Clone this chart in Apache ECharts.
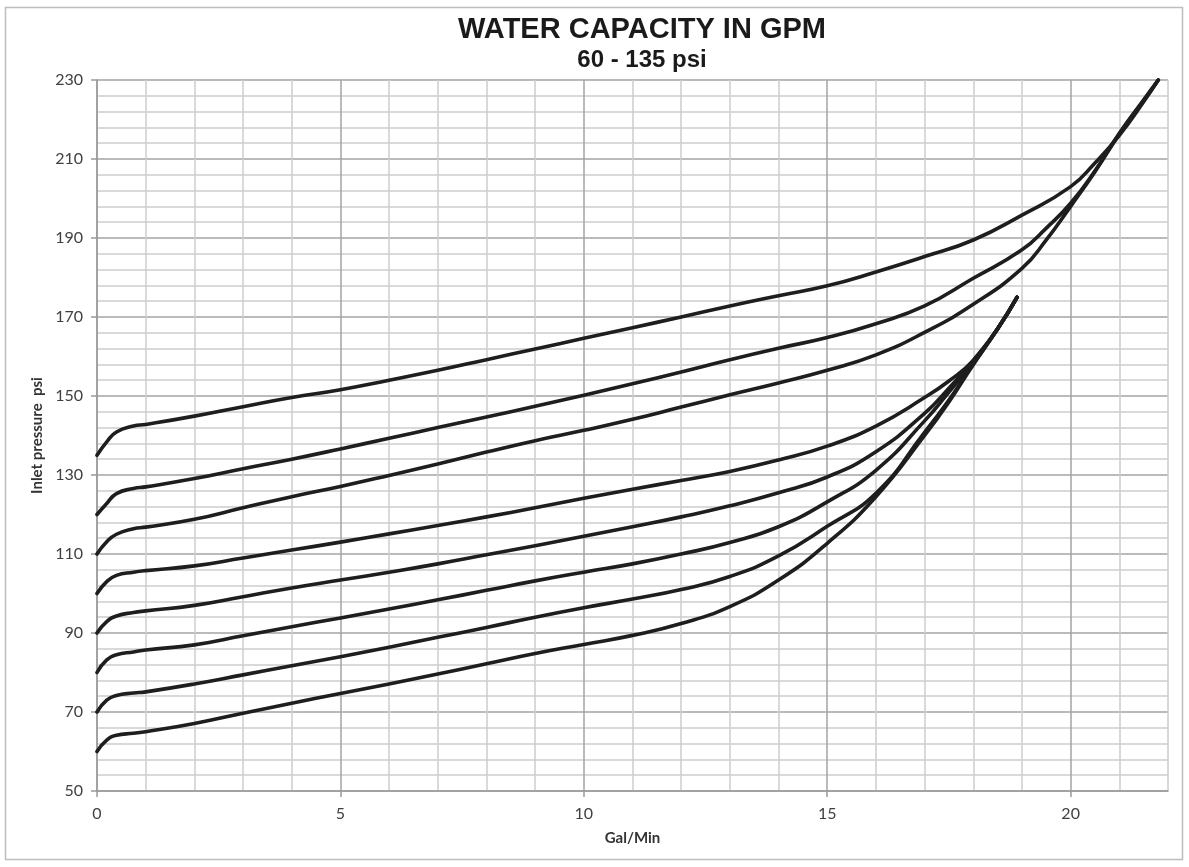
<!DOCTYPE html>
<html>
<head>
<meta charset="utf-8">
<script src="https://cdn.jsdelivr.net/npm/echarts@6/dist/echarts.min.js"></script>
<style>
html,body{margin:0;padding:0;background:#fff;}
#chart{width:1189px;height:867px;}
</style>
</head>
<body>
<div id="chart"></div>
<script>
// ---- data (Gal/Min, Inlet pressure psi) ----
const chartTitle = 'WATER CAPACITY IN GPM';
const chartSubtitle = '60 - 135 psi';
const xAxisName = 'Gal/Min';
const yAxisName = 'Inlet pressure  psi';

const curve135 = [[0,135],[0.2,138.4],[0.4,140.9],[0.75,142.4],[1,142.8],[2,144.9],[3,147.3],[4,149.6],[5,151.6],[6,154.0],[7,156.5],[8,159.2],[9,161.9],[10,164.6],[11,167.3],[12,170.0],[13,172.8],[14,175.4],[15,177.9],[16,181.4],[17,185.3],[18,189.5],[19,195.8],[20,203.0],[20.5,209.0],[21,216.0],[21.5,224.5],[21.8,230]];
const curve120 = [[0,120],[0.2,122.8],[0.4,125.3],[0.75,126.6],[1,127.0],[2,129.1],[3,131.6],[4,134.0],[5,136.6],[6,139.3],[7,142.0],[8,144.7],[9,147.4],[10,150.2],[11,153.1],[12,156.1],[13,159.2],[14,162.1],[15,164.8],[16,168.3],[17,172.8],[18,179.8],[19,187.0],[19.5,192.5],[20,198.8],[20.5,207.0],[21,216.5],[21.5,225.0],[21.8,230]];
const curve110 = [[0,110],[0.2,113.1],[0.4,115.0],[0.75,116.4],[1,116.8],[2,118.8],[3,121.7],[4,124.5],[5,127.1],[6,129.9],[7,132.8],[8,135.8],[9,138.7],[10,141.3],[11,144.1],[12,147.2],[13,150.3],[14,153.3],[15,156.5],[16,160.4],[17,166.1],[18,173.2],[19,182.3],[19.5,189.5],[20,198.0],[20.5,206.8],[21,216.3],[21.5,224.8],[21.8,230]];
const curve100 = [[0,100],[0.2,103.0],[0.4,104.6],[0.75,105.4],[1,105.8],[2,107.0],[3,109.0],[4,111.0],[5,113.0],[6,115.1],[7,117.2],[8,119.4],[9,121.7],[10,124.1],[11,126.4],[12,128.6],[13,130.9],[14,133.8],[15,137.3],[16,142.4],[17,149.6],[17.5,153.8],[18,159.0],[18.5,167.0],[18.9,175]];
const curve90  = [[0,90],[0.2,92.9],[0.4,94.3],[0.75,95.2],[1,95.6],[2,97.0],[3,99.2],[4,101.4],[5,103.4],[6,105.4],[7,107.5],[8,109.8],[9,112.1],[10,114.5],[11,116.9],[12,119.4],[13,122.2],[14,125.5],[15,129.5],[16,135.9],[17,145.6],[17.5,152.0],[18,159.0],[18.5,167.0],[18.9,175]];
const curve80  = [[0,80],[0.2,83.2],[0.4,84.5],[0.75,85.2],[1,85.7],[2,87.0],[3,89.3],[4,91.6],[5,93.8],[6,96.1],[7,98.4],[8,100.8],[9,103.2],[10,105.4],[11,107.5],[12,110.0],[13,112.9],[14,116.9],[15,123.2],[16,131.2],[17,143.7],[17.5,151.0],[18,158.5],[18.5,167.0],[18.9,175]];
const curve70  = [[0,70],[0.2,73.0],[0.4,74.2],[0.75,74.8],[1,75.1],[2,77.1],[3,79.4],[4,81.7],[5,84.0],[6,86.4],[7,88.9],[8,91.4],[9,94.0],[10,96.4],[11,98.6],[12,101.0],[13,104.3],[14,109.5],[15,117.0],[16,125.4],[17,140.8],[17.5,149.0],[18,158.0],[18.5,167.0],[18.9,175]];
const curve60  = [[0,60],[0.2,62.9],[0.4,64.1],[0.75,64.6],[1,65.0],[2,67.1],[3,69.7],[4,72.2],[5,74.7],[6,77.1],[7,79.6],[8,82.2],[9,84.8],[10,87.1],[11,89.4],[12,92.4],[13,96.7],[14,103.4],[15,112.7],[16,124.5],[17,140.0],[17.5,148.5],[18,158.0],[18.5,167.0],[18.9,175]];

const curves = [curve135, curve120, curve110, curve100, curve90, curve80, curve70, curve60];

const xMin = 0, xMax = 22, xStep = 1;
const yMin = 50, yMax = 230, yStep = 20;

// ---- chart ----
const chart = echarts.init(document.getElementById('chart'), null, {renderer: 'canvas'});
const labelFont = 'Lato, "Open Sans", sans-serif';
const gridLeft = 97, gridRight = 21, gridTop = 80, gridBottom = 76;
const plotW = 1189 - gridLeft - gridRight;
const tickGridRight = 1189 - gridLeft - plotW * 20 / 22;

const option = {
  animation: false,
  backgroundColor: '#ffffff',
  graphic: [
    {type: 'rect', shape: {x: 5.5, y: 7.5, width: 1177, height: 852}, style: {fill: 'none', stroke: '#bdbdbd', lineWidth: 1.5}, silent: true, z: -10},
    {type: 'text', x: 642, y: 15, style: {text: chartTitle, textAlign: 'center', textVerticalAlign: 'top', font: 'bold 29px "Liberation Sans", Arial, sans-serif', fill: '#1a1a1a'}},
    {type: 'text', x: 642, y: 48, style: {text: chartSubtitle, textAlign: 'center', textVerticalAlign: 'top', font: 'bold 24px "Liberation Sans", Arial, sans-serif', fill: '#1a1a1a'}}
  ],
  grid: [
    {left: gridLeft, right: gridRight, top: gridTop, bottom: gridBottom, containLabel: false},
    {left: gridLeft, right: tickGridRight, top: gridTop, bottom: gridBottom, containLabel: false}
  ],
  xAxis: [
    {
      type: 'value', gridIndex: 0, min: xMin, max: xMax, interval: xStep,
      name: xAxisName, nameLocation: 'middle', nameGap: 40,
      nameTextStyle: {fontFamily: labelFont, fontWeight: 'bold', fontSize: 15, color: '#333'},
      axisLine: {show: true, lineStyle: {color: '#9a9a9a', width: 1.5}},
      axisTick: {show: false},
      axisLabel: {margin: 15, fontFamily: labelFont, fontSize: 16, color: '#404040',
        formatter: v => (v % 5 === 0 && v <= 20) ? String(v) : ''},
      splitLine: {show: true, lineStyle: {color: ['#a3a3a3', '#cdcdcd', '#cdcdcd', '#cdcdcd', '#cdcdcd'], width: 1.5}}
    },
    {
      type: 'value', gridIndex: 1, min: 0, max: 20, interval: 5,
      axisLine: {show: false},
      axisTick: {show: true, length: 6, lineStyle: {color: '#9a9a9a', width: 1.5}},
      axisLabel: {show: false},
      splitLine: {show: false}
    }
  ],
  yAxis: [
    {
      type: 'value', gridIndex: 0, min: yMin, max: yMax, interval: yStep,
      name: yAxisName, nameLocation: 'middle', nameGap: 50,
      nameTextStyle: {fontFamily: labelFont, fontWeight: 'bold', fontSize: 15, color: '#333'},
      axisLine: {show: true, lineStyle: {color: '#9a9a9a', width: 1.5}},
      axisTick: {show: true, length: 6, lineStyle: {color: '#9a9a9a', width: 1.5}},
      axisLabel: {margin: 14, fontFamily: labelFont, fontSize: 16, color: '#404040'},
      splitLine: {show: true, lineStyle: {color: '#a3a3a3', width: 1.5}},
      minorTick: {show: false, splitNumber: 5},
      minorSplitLine: {show: true, lineStyle: {color: '#cdcdcd', width: 1.5}}
    },
    {
      type: 'value', gridIndex: 1, min: yMin, max: yMax, show: false,
      splitLine: {show: false}
    }
  ],
  series: curves.map(c => ({
    type: 'line', xAxisIndex: 0, yAxisIndex: 0, data: c,
    showSymbol: false, symbol: 'none', smooth: 0.5,
    lineStyle: {color: '#1e1e1e', width: 3.6, cap: 'round', join: 'round'},
    z: 5
  }))
};
chart.setOption(option);
</script>
</body>
</html>
